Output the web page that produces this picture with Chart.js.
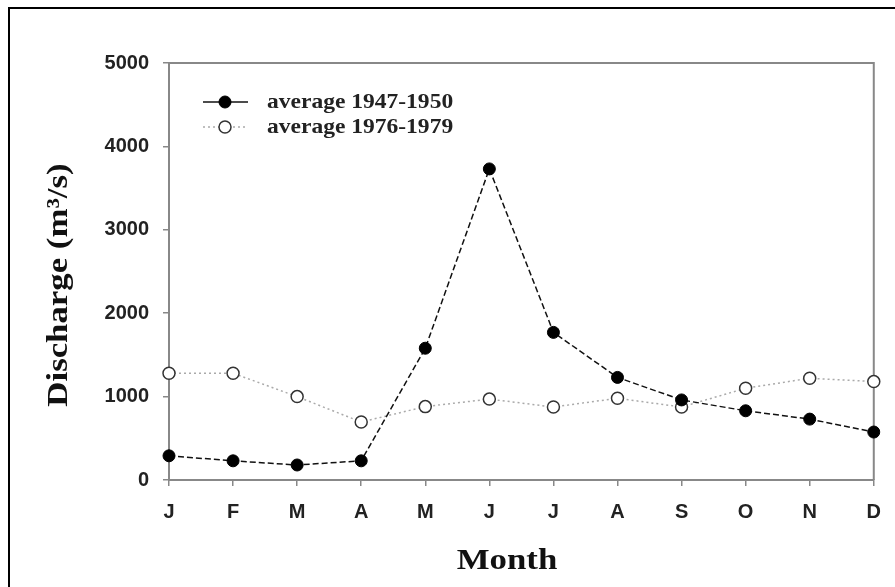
<!DOCTYPE html>
<html>
<head>
<meta charset="utf-8">
<script src="https://cdn.jsdelivr.net/npm/chart.js@4"></script>
<style>
  html, body { margin: 0; padding: 0; background: #fff; overflow: hidden; }
  #wrap { position: relative; width: 895px; height: 587px; }
  #frame {
    position: absolute; left: 8px; top: 7px; width: 1000px; height: 1000px;
    border: 2px solid #000; pointer-events: none;
  }
</style>
</head>
<body>
<div id="wrap">
  <canvas id="dischargeChart" width="895" height="587"></canvas>
  <div id="frame"></div>
</div>
<script>
const months = ["J", "F", "M", "A", "M", "J", "J", "A", "S", "O", "N", "D"];
const avg1947_1950 = [290, 230, 180, 230, 1580, 3730, 1770, 1230, 960, 830, 730, 575];
const avg1976_1979 = [1280, 1280, 1000, 695, 880, 970, 875, 980, 875, 1100, 1220, 1180];
const seriesNames = ["average 1947-1950", "average 1976-1979"];
const yTicks = [0, 1000, 2000, 3000, 4000, 5000];

const serif = "'Liberation Serif', 'Times New Roman', serif";
const sans = "'Liberation Sans', Arial, sans-serif";

// stretched serif text, as in the printed figure
function wideText(ctx, text, x, y, size, stretch, rotate) {
  ctx.save();
  ctx.translate(x, y);
  if (rotate) ctx.rotate(-Math.PI / 2);
  ctx.scale(stretch, 1);
  ctx.font = "bold " + size + "px " + serif;
  ctx.fillStyle = "#111";
  ctx.textAlign = "center";
  ctx.textBaseline = "alphabetic";
  ctx.fillText(text, 0, 0);
  ctx.restore();
}

const frameBox = {
  id: "frameBox",
  beforeDatasetsDraw(chart) {
    const { ctx, chartArea: a } = chart;
    ctx.save();
    ctx.strokeStyle = "#888";
    ctx.lineWidth = 2;
    ctx.beginPath();
    ctx.moveTo(a.left, a.top);
    ctx.lineTo(a.right, a.top);
    ctx.lineTo(a.right, a.bottom);
    ctx.stroke();
    ctx.restore();
  },
  afterDraw(chart) {
    const { ctx } = chart;
    const ds = chart.data.datasets;

    // axis titles
    wideText(ctx, "Month", 507, 569, 30, 1.16, false);
    wideText(ctx, "Discharge (m³/s)", 67, 285, 30, 1.16, true);

    // legend
    const rows = [102, 127];
    rows.forEach((y, i) => {
      const d = ds[i];
      ctx.save();
      ctx.strokeStyle = i === 0 ? "#111" : "#aaa";
      ctx.lineWidth = 1.5;
      ctx.setLineDash(i === 0 ? [] : [2, 3]);
      ctx.beginPath();
      ctx.moveTo(203, y);
      ctx.lineTo(248, y);
      ctx.stroke();
      ctx.setLineDash([]);
      ctx.beginPath();
      ctx.arc(225, y, d.pointRadius, 0, Math.PI * 2);
      ctx.fillStyle = d.pointBackgroundColor;
      ctx.fill();
      ctx.lineWidth = d.pointBorderWidth;
      ctx.strokeStyle = d.pointBorderColor;
      ctx.stroke();
      ctx.translate(267, y + 6);
      ctx.scale(1.12, 1);
      ctx.font = "bold 21px " + serif;
      ctx.fillStyle = "#222";
      ctx.textAlign = "left";
      ctx.textBaseline = "alphabetic";
      ctx.fillText(seriesNames[i], 0, 0);
      ctx.restore();
    });
  }
};

new Chart(document.getElementById("dischargeChart"), {
  type: "line",
  data: {
    labels: months,
    datasets: [
      {
        label: seriesNames[0],
        data: avg1947_1950,
        borderColor: "#111",
        borderWidth: 1.5,
        borderDash: [6, 3],
        pointRadius: 6,
        pointBackgroundColor: "#000",
        pointBorderColor: "#000",
        pointBorderWidth: 1,
        tension: 0,
      },
      {
        label: seriesNames[1],
        data: avg1976_1979,
        borderColor: "#aaa",
        borderWidth: 1.5,
        borderDash: [2, 3],
        pointRadius: 6,
        pointBackgroundColor: "#fff",
        pointBorderColor: "#333",
        pointBorderWidth: 1.5,
        tension: 0,
      },
    ],
  },
  options: {
    responsive: false,
    animation: false,
    events: [],
    layout: { padding: { left: 0, right: 17, top: 63, bottom: 0 } },
    plugins: {
      legend: { display: false },
      tooltip: { enabled: false },
    },
    scales: {
      x: {
        offset: false,
        border: { color: "#888", width: 2 },
        grid: { drawOnChartArea: false, drawTicks: true, tickLength: 6, color: "#888", lineWidth: 1.5 },
        ticks: { color: "#222", padding: 14, maxRotation: 0, autoSkip: false, font: { family: sans, size: 20, weight: "bold" } },
        afterFit(scale) { scale.height = 107; },
      },
      y: {
        min: 0,
        max: 5000,
        afterBuildTicks(scale) { scale.ticks = yTicks.map(v => ({ value: v })); },
        border: { color: "#888", width: 2 },
        grid: { drawOnChartArea: false, drawTicks: true, tickLength: 6, color: "#888", lineWidth: 1.5 },
        ticks: {
          color: "#222",
          padding: 14,
          font: { family: sans, size: 20, weight: "bold" },
          callback: (v) => String(v),
        },
        afterFit(scale) { scale.width = 169; },
      },
    },
  },
  plugins: [frameBox],
});
</script>
</body>
</html>
